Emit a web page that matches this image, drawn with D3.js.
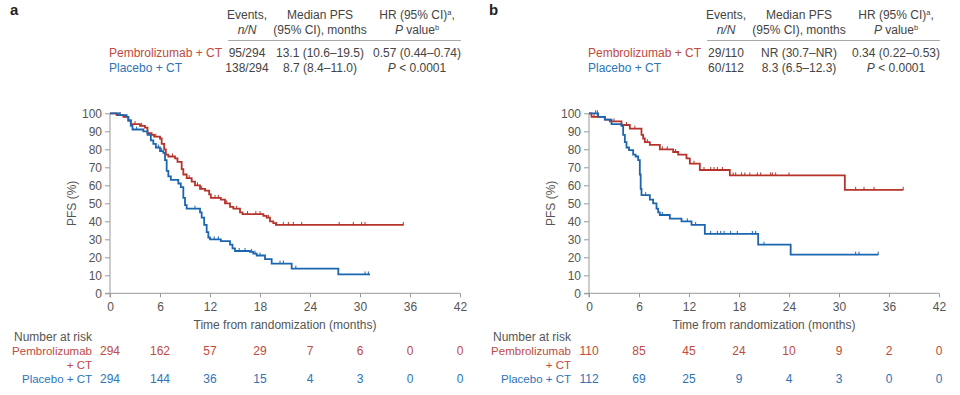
<!doctype html>
<html lang="en">
<head>
<meta charset="UTF-8">
<script src="https://d3js.org/d3.v7.min.js"></script>
<style>
body {
  margin: 0;
  background: #fff;
  font-family: "Liberation Sans", Arial, sans-serif;
}
text { fill: #444; }
.axis path, .axis line { stroke: #999; }
.axis text { fill: #555; font-size: 12px; font-family: "Liberation Sans", Arial, sans-serif; }
</style>
<title></title>
</head>
<body>
<div id="main"></div>
<script>
// x ticks (months) and risk table columns
var monthTicks = [0, 6, 12, 18, 24, 30, 36, 42];
var pctTicks = [0, 10, 20, 30, 40, 50, 60, 70, 80, 90, 100];

// panel a: KM steps [month, PFS %]
var pembroA = [[0,100],[0.8,99],[1.6,98],[2.2,96],[2.5,94],[3.6,93],[4.2,92],[4.5,89],[5.0,88],[5.3,87],
  [6.0,86],[6.2,83],[6.5,80],[6.7,77],[7.0,76],[7.8,75],[8.1,73],[8.6,69],[8.8,66],[9.2,64],[9.8,62],
  [10.2,60],[10.8,58],[11.4,57],[11.9,55],[12.1,53],[13.3,52],[13.8,50],[14.4,48],[14.8,47],[15.6,45],
  [15.9,44],[18.4,43],[18.8,42],[19.2,40],[19.6,39],[19.9,38],[35.2,38]];
var placeboA = [[0,100],[1.0,99],[2.0,98],[2.2,96],[2.5,93],[2.7,91],[4.0,90],[4.5,88],[4.9,85],[5.2,83],
  [5.5,81],[6.0,79],[6.4,78],[6.6,74],[6.8,68],[7.0,65],[7.3,63],[8.2,61],[8.5,59],[8.8,53],[9.0,49],
  [9.2,47],[10.8,45],[11.0,42],[11.3,38],[11.6,34],[11.8,31],[12.0,30],[13.3,29],[14.4,27],[14.7,25],
  [15.0,23.5],[16.8,23],[17.2,22],[17.6,21],[18.6,19],[19.4,16.5],[21.8,13.7],[27.4,10.5],[31.2,10.5]];
var pembroACens = [1.2, 3.0, 3.8, 5.5, 7.5, 9.5, 10.5, 11.0, 12.6, 13.0, 14.0, 15.2, 16.5, 17.5, 18.0,
  19.0, 20.0, 20.8, 21.4, 22.0, 23.0, 27.5, 29.2, 30.2, 30.6, 35.2];
var placeboACens = [1.2, 3.2, 5.8, 6.2, 10.2, 12.5, 13.0, 15.5, 16.2, 17.0, 17.4, 18.0, 20.4, 20.8,
  22.3, 30.6, 31.0];
var riskPembroA = [294, 162, 57, 29, 7, 6, 0, 0];
var riskPlaceboA = [294, 144, 36, 15, 4, 3, 0, 0];

// panel b
var pembroB = [[0,100],[0.3,98],[1.9,96.5],[2.5,95.5],[3.9,93.5],[4.9,91.5],[6.3,88],[6.5,86],[6.7,84],
  [7.3,82.5],[8.5,80],[10.1,78.5],[10.7,77],[11.7,75],[12.1,72],[13.3,68.5],[16.9,65.5],[30.7,57.5],[37.7,57.5]];
var placeboB = [[0,100],[1.1,98],[1.9,96.5],[2.7,94],[3.9,93],[4.1,88],[4.3,84],[4.5,81],[4.8,79.5],
  [5.3,77],[5.6,76],[5.9,74],[6.1,66],[6.2,58],[6.3,54.5],[7.3,52],[7.7,50],[8.1,47],[8.3,45],[8.5,43.5],
  [9.7,41.5],[11.1,40],[12.3,38],[13.9,33],[20.3,27],[24.2,21.5],[34.7,21.5]];
var pembroBCens = [0.6, 1.0, 3.0, 4.5, 5.5, 7.0, 8.8, 9.4, 10.4, 12.6, 13.8, 14.6, 15.0, 15.4, 16.0,
  17.3, 17.6, 18.3, 18.7, 19.3, 20.2, 20.6, 21.8, 22.0, 22.4, 24.0, 32.0, 33.0, 34.2, 37.7];
var placeboBCens = [0.8, 1.0, 6.8, 8.8, 11.8, 12.8, 14.6, 15.4, 15.8, 16.2, 17.0, 17.8, 19.6, 20.0,
  21.0, 32.0, 32.4, 34.7];
var riskPembroB = [110, 85, 45, 24, 10, 9, 2, 0];
var riskPlaceboB = [112, 69, 25, 9, 4, 3, 0, 0];

// header table text
var eventsA = ["95/294", "138/294"], medianA = ["13.1 (10.6\u201319.5)", "8.7 (8.4\u201311.0)"], hrA = "0.57 (0.44\u20130.74)";
var eventsB = ["29/110", "60/112"], medianB = ["NR (30.7\u2013NR)", "8.3 (6.5\u201312.3)"], hrB = "0.34 (0.22\u20130.53)";

var red = "#b6332b", blue = "#1c66b0", redText = "#c04a40", blueText = "#2d74b6";

var svg = d3.select("#main").append("svg")
  .attr("width", 960).attr("height", 395);

function panel(ox, letter, pembro, placebo, pCens, cCens, riskP, riskC, events, median, hr) {
  var g = svg.append("g").attr("transform", "translate(" + ox + ",0)");

  var x = d3.scaleLinear().domain([0, 42]).range([110, 460]);
  var y = d3.scaleLinear().domain([0, 100]).range([293.3, 113.3]);

  g.append("text").attr("x", 10).attr("y", 15)
    .style("font-weight", "bold").style("font-size", "15px").style("fill", "#222")
    .text(letter);

  // header table
  var c1 = 247, c2 = 320, c3 = 417;
  var hdr = g.append("g").style("font-size", "12px").attr("text-anchor", "middle");
  hdr.append("text").attr("x", c1).attr("y", 19).text("Events,");
  hdr.append("text").attr("x", c1).attr("y", 34).style("font-style", "italic").text("n/N");
  hdr.append("text").attr("x", c2).attr("y", 19).text("Median PFS");
  hdr.append("text").attr("x", c2).attr("y", 34).text("(95% CI), months");
  var h1 = hdr.append("text").attr("x", c3).attr("y", 19);
  h1.append("tspan").text("HR (95% CI)");
  h1.append("tspan").attr("dy", -4).style("font-size", "7.5px").text("a");
  h1.append("tspan").attr("dy", 4).text(",");
  var h2 = hdr.append("text").attr("x", c3).attr("y", 34);
  h2.append("tspan").style("font-style", "italic").text("P");
  h2.append("tspan").text(" value");
  h2.append("tspan").attr("dy", -4).style("font-size", "7.5px").text("b");
  g.append("line").attr("x1", 228).attr("x2", 461).attr("y1", 40.5).attr("y2", 40.5)
    .attr("stroke", "#aaa").attr("stroke-width", 1.2);

  var rows = g.append("g").style("font-size", "12px");
  rows.append("text").attr("x", 109).attr("y", 57).style("fill", redText).text("Pembrolizumab + CT");
  rows.append("text").attr("x", 109).attr("y", 72).style("fill", blueText).text("Placebo + CT");
  [57, 72].forEach(function(yy, i) {
    rows.append("text").attr("x", c1).attr("y", yy).attr("text-anchor", "middle").text(events[i]);
    rows.append("text").attr("x", c2).attr("y", yy).attr("text-anchor", "middle").text(median[i]);
  });
  rows.append("text").attr("x", c3).attr("y", 57).attr("text-anchor", "middle").text(hr);
  var pv = rows.append("text").attr("x", c3).attr("y", 72).attr("text-anchor", "middle");
  pv.append("tspan").style("font-style", "italic").text("P");
  pv.append("tspan").text(" < 0.0001");

  // axes
  g.append("g").attr("class", "axis")
    .attr("transform", "translate(110,0)")
    .call(d3.axisLeft(y).tickValues(pctTicks).tickSize(5).tickPadding(3))
    .call(function(a) { a.select(".domain").attr("d", "M0," + y(100) + "V" + (y(0) + 4)); });
  g.append("g").attr("class", "axis")
    .attr("transform", "translate(0," + y(0) + ")")
    .call(d3.axisBottom(x).tickValues(monthTicks).tickSize(4).tickPadding(5).tickSizeOuter(0))
    .call(function(a) { a.select(".domain").attr("d", "M" + (x(0) - 5) + ",0H" + x(42)); });

  g.append("text").attr("transform", "translate(76," + y(50) + ") rotate(-90)")
    .attr("text-anchor", "middle").style("font-size", "12px").style("fill", "#555").text("PFS (%)");
  g.append("text").attr("x", x(21)).attr("y", 329).attr("text-anchor", "middle")
    .style("font-size", "12px").style("fill", "#555").text("Time from randomization (months)");

  // curves
  var line = d3.line().curve(d3.curveStepAfter)
    .x(function(d) { return x(d[0]); })
    .y(function(d) { return y(d[1]); });
  function stepAt(data, t) {
    var v = data[0][1];
    data.forEach(function(d) { if (d[0] <= t) v = d[1]; });
    return v;
  }
  [[pembro, pCens, red], [placebo, cCens, blue]].forEach(function(s) {
    g.append("path").datum(s[0]).attr("d", line)
      .attr("fill", "none").attr("stroke", s[2]).attr("stroke-width", 1.8);
    g.selectAll(null).data(s[1]).enter().append("line")
      .attr("x1", function(t) { return x(t); }).attr("x2", function(t) { return x(t); })
      .attr("y1", function(t) { return y(stepAt(s[0], t)) - 3; })
      .attr("y2", function(t) { return y(stepAt(s[0], t)) + 0.5; })
      .attr("stroke", s[2]).attr("stroke-width", 1);
  });

  // number at risk
  var rk = g.append("g").style("font-size", "12px");
  rk.append("text").attr("x", 92).attr("y", 341).attr("text-anchor", "end").style("fill", "#555").text("Number at risk");
  var lab = g.append("g").style("font-size", "11.5px").attr("text-anchor", "end");
  lab.append("text").attr("x", 92).attr("y", 355).style("fill", redText).text("Pembrolizumab");
  lab.append("text").attr("x", 92).attr("y", 368.5).style("fill", redText).text("+ CT");
  lab.append("text").attr("x", 92).attr("y", 382.5).style("fill", blueText).text("Placebo + CT");
  rk.selectAll(".rp").data(riskP).enter().append("text")
    .attr("x", function(d, i) { return x(monthTicks[i]); }).attr("y", 355)
    .attr("text-anchor", "middle").style("fill", redText).text(function(d) { return d; });
  rk.selectAll(".rc").data(riskC).enter().append("text")
    .attr("x", function(d, i) { return x(monthTicks[i]); }).attr("y", 382.5)
    .attr("text-anchor", "middle").style("fill", blueText).text(function(d) { return d; });
}

panel(0, "a", pembroA, placeboA, pembroACens, placeboACens, riskPembroA, riskPlaceboA, eventsA, medianA, hrA);
panel(479, "b", pembroB, placeboB, pembroBCens, placeboBCens, riskPembroB, riskPlaceboB, eventsB, medianB, hrB);
</script>
</body>
</html>
